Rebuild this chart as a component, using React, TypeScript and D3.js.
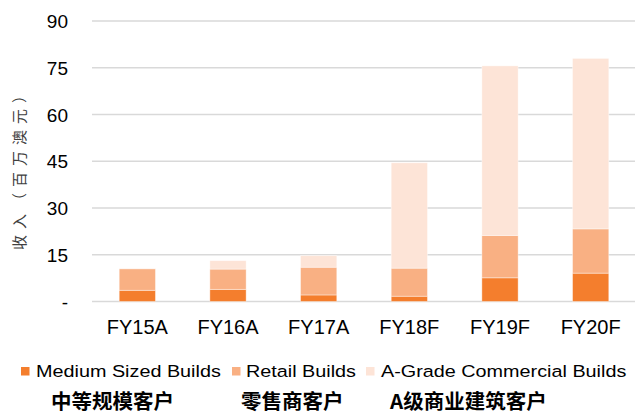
import React from "react";
import * as d3 from "d3";

const categories = ["FY15A", "FY16A", "FY17A", "FY18F", "FY19F", "FY20F"];
const mediumSized = [3.6, 3.9, 2.1, 1.7, 7.6, 9.1];
const retail = [6.9, 6.5, 8.9, 9.0, 13.6, 14.2];
const aGrade = [0.1, 2.7, 3.7, 33.8, 54.4, 54.7];
const yTicks = [0, 15, 30, 45, 60, 75, 90];
const seriesNames = ["Medium Sized Builds", "Retail Builds", "A-Grade Commercial Builds"];
const seriesCn = ["中等规模客户", "零售商客户", "A级商业建筑客户"];
const colors = ["#F47E2D", "#F9B083", "#FDE4D7"];

export default function App() {
  const W = 635, H = 414;
  const x = d3.scaleBand<string>().domain(categories).range([92, 636]).paddingInner(0.6).paddingOuter(0.3);
  const y = d3.scaleLinear().domain([0, 90]).range([301.5, 21]);
  const rows = categories.map((c, i) => ({ cat: c, m: mediumSized[i], r: retail[i], a: aGrade[i] }));
  const stack = d3.stack<any>().keys(["m", "r", "a"])(rows);
  const font = "'Liberation Sans', Arial, sans-serif";
  const legendX = [21, 232, 366];
  const legendTextX = [36, 246, 381];
  const cnX = [51, 241, 390];
  return (
    <svg width={W} height={H} style={{ position: "absolute", left: 0, top: 0 }}>
      <rect width={W} height={H} fill="#fff" />
      {yTicks.map((t) => (
        <g key={t}>
          <line x1={92} x2={635} y1={y(t)} y2={y(t)} stroke="#D9D9D9" strokeWidth={1.5} />
          <text x={68} y={y(t) + 7} textAnchor="end" fontFamily={font} fontSize={19} fill="#000">
            {t === 0 ? "-" : t}
          </text>
        </g>
      ))}
      {stack.map((s, si) =>
        s.map((d, i) => (
          <rect
            key={si + "-" + i}
            x={x(categories[i])}
            y={y(d[1])}
            width={x.bandwidth()}
            height={Math.max(0, y(d[0]) - y(d[1]))}
            fill={colors[si]}
            stroke="#fff"
            strokeOpacity={0.5}
            strokeWidth={0.8}
          />
        ))
      )}
      {categories.map((c) => (
        <text key={c} x={(x(c) as number) + x.bandwidth() / 2} y={334} textAnchor="middle" fontFamily={font} fontSize={20} fill="#000">
          {c}
        </text>
      ))}
      <text
        transform={`translate(25,169) rotate(-90)`}
        textAnchor="middle"
        fontFamily="'Noto Sans CJK SC', sans-serif"
        fontSize={15}
        textLength={162}
        lengthAdjust="spacing"
        fill="#404040"
      >
        收入（百万澳元）
      </text>
      {seriesNames.map((n, i) => (
        <g key={n}>
          <rect x={legendX[i]} y={367} width={8.5} height={8.5} fill={colors[i]} />
          <text transform={`translate(${legendTextX[i]},377) scale(1.2,1)`} fontFamily={font} fontSize={16.5} fill="#000">
            {n}
          </text>
          <text x={cnX[i]} y={409} fontFamily="'Noto Sans CJK SC', sans-serif" fontWeight={700} fontSize={20.5} fill="#000">
            {seriesCn[i]}
          </text>
        </g>
      ))}
    </svg>
  );
}
